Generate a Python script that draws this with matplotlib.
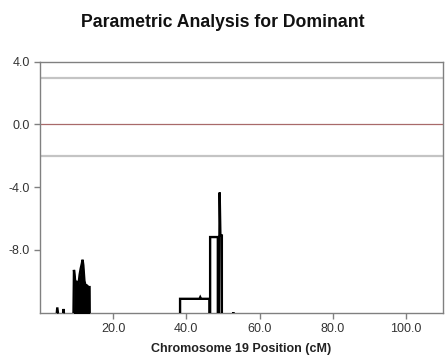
import matplotlib
matplotlib.use("Agg")
import matplotlib.pyplot as plt
import numpy as np

plt.rcParams['font.family'] = ['Liberation Sans', 'DejaVu Sans']

### Data
# LOD-like score along chromosome 19 (values below the axis floor sit at -12.5)
pos_cm = [0.0, 4.5, 4.8, 5.2, 6.3, 6.5, 6.8,
          9.2, 9.35, 9.5, 9.8, 10.0, 10.3, 10.6, 10.9, 11.2, 11.5, 11.7, 11.9,
          12.2, 12.5, 12.9, 13.3, 13.6, 13.65,
          38.3, 38.3, 43.6, 43.8, 44.0, 46.3, 46.3,
          46.5, 46.5, 48.6, 48.6, 48.9, 49.1, 49.3, 49.7, 49.7,
          52.6, 52.8, 53.0, 110.0]
score = [-12.5, -12.5, -11.7, -12.5, -12.5, -11.8, -12.5,
         -12.5, -9.3, -9.6, -10.3, -10.0, -10.3, -10.2, -9.6, -9.2, -8.9, -8.65, -9.0,
         -10.0, -10.3, -10.3, -10.4, -10.4, -12.5,
         -12.5, -11.15, -11.15, -11.05, -11.15, -11.15, -12.5,
         -12.5, -7.2, -7.2, -12.5, -12.5, -4.35, -7.1, -7.1, -12.5,
         -12.5, -12.0, -12.5, -12.5]

upper_threshold = 3.0
lower_threshold = -2.0

x_ticks = [20, 40, 60, 80, 100]
y_ticks = [4, 0, -4, -8]

### Plot
fig = plt.figure(figsize=(4.46, 3.58), dpi=100)
ax = fig.add_axes([0.089, 0.126, 0.904, 0.701])

ax.axhline(upper_threshold, color="#c4c4c4", lw=1.6, zorder=1)
ax.axhline(lower_threshold, color="#c4c4c4", lw=1.6, zorder=1)
ax.axhline(0.0, color="#a86a6a", lw=0.9, zorder=1)

x = np.array(pos_cm)
y = np.array(score)
ax.plot(x, y, color="black", lw=1.7, solid_joinstyle="miter", zorder=3)
ax.fill_between(x, y, -12.5, where=(x < 15), color="black", lw=0, zorder=3)

ax.set_xlim(0, 110)
ax.set_ylim(-12.05, 4.0)
ax.set_xticks(x_ticks)
ax.set_xticklabels(["{:.1f}".format(v) for v in x_ticks])
ax.set_yticks(y_ticks)
ax.set_yticklabels(["{:.1f}".format(v) for v in y_ticks])

for s in ax.spines.values():
    s.set_color("#808080")
    s.set_linewidth(1.0)
ax.tick_params(direction="out", length=4, width=1, color="#808080",
               labelsize=9, labelcolor="#333333", pad=3)

ax.set_xlabel("Chromosome 19 Position (cM)", fontsize=9, fontweight="bold",
              color="#222222", labelpad=6)
fig.suptitle("Parametric Analysis for Dominant", x=0.5, y=0.96,
             fontsize=12.7, fontweight="bold", color="#111111")

fig.savefig("out.png", dpi=100)
